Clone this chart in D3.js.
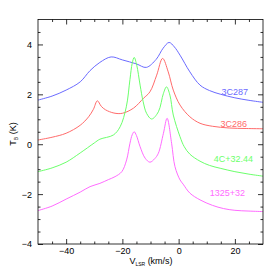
<!DOCTYPE html>
<html>
<head>
<meta charset="utf-8">
<script src="https://cdn.jsdelivr.net/npm/d3@7"></script>
<style>
  body { margin: 0; background: #fff; }
  text { font-family: "Liberation Sans", Arial, sans-serif; }
</style>
</head>
<body>
<div id="chart"></div>
<script>
// velocity (km/s) and brightness temperature (K)
const v287 = [-50, -45, -40, -35, -31.5, -28, -24, -20, -15, -11.5, -8, -5.5, -3.4, -1.5, 0.5, 4, 7.6, 11, 15, 20, 25, 30];
const t287 = [1.77, 1.93, 2.17, 2.5, 2.95, 3.28, 3.5, 3.38, 3.22, 3.08, 3.4, 3.85, 4.08, 3.9, 3.57, 2.9, 2.37, 2.15, 2.0, 1.86, 1.76, 1.68];

const v286 = [-50, -45, -40, -35, -32, -30.3, -28.9, -27.5, -26, -23, -20, -16, -12.5, -10.2, -7.8, -5.7, -3.7, -1.9, 0.5, 4, 7.6, 12, 18, 24, 30];
const t286 = [0.17, 0.28, 0.44, 0.76, 1.1, 1.4, 1.74, 1.52, 1.38, 1.25, 1.24, 1.45, 1.84, 2.1, 2.77, 3.44, 2.9, 2.17, 1.57, 1.1, 0.84, 0.72, 0.65, 0.63, 0.62];

const v432 = [-50, -45, -40, -35, -30, -28, -23.2, -20.8, -18.6, -17.3, -16.5, -15.8, -14.9, -13.7, -12.6, -11.4, -9.6, -7.2, -5.4, -4.3, -3.1, -1.9, 0.5, 2, 4, 7.6, 11, 15, 20, 25, 30];
const t432 = [-1.1, -0.95, -0.72, -0.35, 0.05, 0.2, 0.37, 0.7, 1.5, 2.6, 3.25, 3.48, 3.17, 2.37, 1.7, 1.24, 1.01, 1.3, 2.04, 2.3, 1.97, 1.17, 0.3, -0.1, -0.4, -0.68, -0.85, -0.97, -1.1, -1.2, -1.28];

const v1325 = [-50, -45, -40, -35, -31.5, -28, -25, -22.6, -20.2, -18.5, -17.3, -16.5, -15.8, -15, -13.7, -11.9, -10.2, -8.5, -7.2, -5.4, -4.1, -2.5, -1.3, 0.5, 1.6, 4, 7.6, 12, 16, 20, 25, 30];
const t1325 = [-2.66, -2.48, -2.2, -1.92, -1.7, -1.57, -1.42, -1.3, -1.1, -0.63, 0.04, 0.38, 0.5, 0.35, -0.1, -0.56, -0.72, -0.58, -0.36, 0.44, 1.04, 0.04, -0.9, -1.43, -1.6, -1.96, -2.23, -2.45, -2.58, -2.65, -2.68, -2.7];

const names = ["3C287", "3C286", "4C+32.44", "1325+32"];
const colors = ["#6b6bff", "#ff6b6b", "#6bff6b", "#ff6bff"];

const xTicks = [-40, -20, 0, 20];
const yTicks = [-4, -2, 0, 2, 4];

const W = 273, H = 279;
const x0 = 38, x1 = 263, y0 = 19.5, y1 = 244;

const x = d3.scaleLinear().domain([-50, 30]).range([x0, x1]);
const y = d3.scaleLinear().domain([-4, 5]).range([y1, y0]);

const svg = d3.select("#chart").append("svg")
    .attr("width", W)
    .attr("height", H);

svg.append("clipPath").attr("id", "clip")
  .append("rect")
    .attr("x", x0).attr("y", y0)
    .attr("width", x1 - x0).attr("height", y1 - y0);

const series = [
  { v: v287, t: t287 },
  { v: v286, t: t286 },
  { v: v432, t: t432 },
  { v: v1325, t: t1325 }
];

const line = d3.line()
    .curve(d3.curveCatmullRom.alpha(0.5))
    .x(d => x(d[0]))
    .y(d => y(d[1]));

const g = svg.append("g").attr("clip-path", "url(#clip)");
series.forEach((s, i) => {
  g.append("path")
    .datum(s.v.map((v, j) => [v, s.t[j]]))
    .attr("d", line)
    .attr("fill", "none")
    .attr("stroke", colors[i])
    .attr("stroke-width", 1);
});

// source labels on the right
const labelPos = [[248, 95], [247, 127], [253, 162], [245, 196]];
names.forEach((n, i) => {
  svg.append("text")
    .attr("x", labelPos[i][0])
    .attr("y", labelPos[i][1])
    .attr("text-anchor", "end")
    .attr("font-size", 9)
    .attr("fill", colors[i])
    .text(n);
});

// axes: inward ticks on all four sides
const minorX = d3.range(-45, 30, 5).filter(v => !xTicks.includes(v));
const minorY = d3.range(-3.5, 5, 0.5).filter(v => !yTicks.includes(v));

const axes = svg.append("g");
axes.append("g").attr("transform", `translate(0,${y1})`)
    .call(d3.axisBottom(x).tickValues(xTicks).tickSize(-5).tickPadding(4)
      .tickFormat(d => d < 0 ? "\u2212" + Math.abs(d) : d));
axes.append("g").attr("transform", `translate(0,${y1})`)
    .call(d3.axisBottom(x).tickValues(minorX).tickSize(-2.5).tickFormat(""));
axes.append("g").attr("transform", `translate(0,${y0})`)
    .call(d3.axisTop(x).tickValues(xTicks).tickSize(-5).tickFormat(""));
axes.append("g").attr("transform", `translate(0,${y0})`)
    .call(d3.axisTop(x).tickValues(minorX).tickSize(-2.5).tickFormat(""));
axes.append("g").attr("transform", `translate(${x0},0)`)
    .call(d3.axisLeft(y).tickValues(yTicks).tickSize(-5).tickPadding(6)
      .tickFormat(d => d < 0 ? "\u2212" + Math.abs(d) : d));
axes.append("g").attr("transform", `translate(${x0},0)`)
    .call(d3.axisLeft(y).tickValues(minorY).tickSize(-2.5).tickFormat(""));
axes.append("g").attr("transform", `translate(${x1},0)`)
    .call(d3.axisRight(y).tickValues(yTicks).tickSize(-5).tickFormat(""));
axes.append("g").attr("transform", `translate(${x1},0)`)
    .call(d3.axisRight(y).tickValues(minorY).tickSize(-2.5).tickFormat(""));

axes.selectAll(".domain").remove();
axes.selectAll("line").attr("stroke", "#000").attr("stroke-width", 0.8);
axes.selectAll("text")
    .attr("font-family", "'Liberation Sans', Arial, sans-serif")
    .attr("font-size", 9)
    .attr("fill", "#000");

svg.append("rect")
    .attr("x", x0).attr("y", y0)
    .attr("width", x1 - x0).attr("height", y1 - y0)
    .attr("fill", "none")
    .attr("stroke", "#000")
    .attr("stroke-width", 0.8);

// axis titles
const xl = svg.append("text")
    .attr("x", 151).attr("y", 264)
    .attr("text-anchor", "middle")
    .attr("font-size", 9);
xl.append("tspan").text("V");
xl.append("tspan").attr("font-size", 5).attr("dy", 2).text("LSR");
xl.append("tspan").attr("dy", -2).text(" (km/s)");

const yl = svg.append("text")
    .attr("transform", "translate(16,134) rotate(-90)")
    .attr("text-anchor", "middle")
    .attr("font-size", 9);
yl.append("tspan").text("T");
yl.append("tspan").attr("font-size", 5).attr("dy", 2).text("B");
yl.append("tspan").attr("dy", -2).text(" (K)");
</script>
</body>
</html>
